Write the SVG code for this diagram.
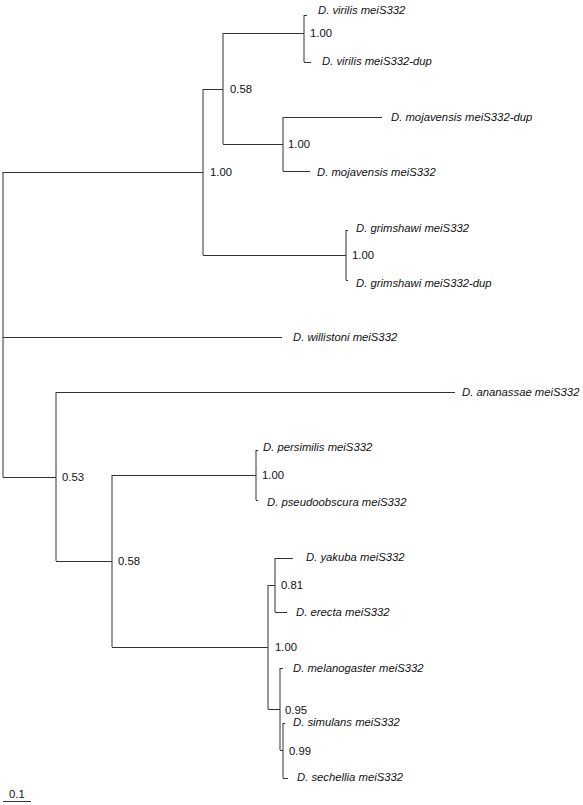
<svg xmlns="http://www.w3.org/2000/svg" width="583" height="805" viewBox="0 0 583 805">
<style>
text{font-family:"Liberation Sans",Arial,sans-serif;font-size:11.3px;fill:#111}
.tip{font-style:italic}
.br{fill:none;stroke:#333;stroke-width:1}
</style>
<rect width="583" height="805" fill="#fff"/>
<g id="connectors" class="br">
<path d="M3,172V477"/>
<path d="M3,172.5H203M203,89V255M203,89.5H223M223,33V144M223,33.5H304M304,15V62M304,15.5H307M304,62.5H311"/>
<path d="M223,144.5H283M283,117V171M283,117.5H382M283,171.5H310"/>
<path d="M203,255.5H346M346,230V280M346,230.5H348M346,280.5H348"/>
<path d="M3,337.5H282"/>
<path d="M3,477.5H56M56,392V561M56,392.5H455M56,561.5H112M112,475V647"/>
<path d="M112,475.5H256M256,450V500M256,450.5H258M256,500.5H258"/>
<path d="M112,647.5H268M268,585V709M268,585.5H275M275,558V612M275,558.5H293M275,612.5H287"/>
<path d="M268,709.5H280M280,668V750M280,668.5H283M280,750.5H283M283,723V778M283,723.5H285M283,778.5H288"/>
</g>
<g id="tip-virilis"><text class="tip" x="318" y="14">D. virilis meiS332</text></g>
<g id="tip-virilis-dup"><text class="tip" x="322" y="65">D. virilis meiS332-dup</text></g>
<g id="tip-mojavensis-dup"><text class="tip" x="391" y="121">D. mojavensis meiS332-dup</text></g>
<g id="tip-mojavensis"><text class="tip" x="317" y="176">D. mojavensis meiS332</text></g>
<g id="tip-grimshawi"><text class="tip" x="356" y="232">D. grimshawi meiS332</text></g>
<g id="tip-grimshawi-dup"><text class="tip" x="356" y="287">D. grimshawi meiS332-dup</text></g>
<g id="tip-willistoni"><text class="tip" x="293" y="341">D. willistoni meiS332</text></g>
<g id="tip-ananassae"><text class="tip" x="462" y="396">D. ananassae meiS332</text></g>
<g id="tip-persimilis"><text class="tip" x="263" y="451">D. persimilis meiS332</text></g>
<g id="tip-pseudoobscura"><text class="tip" x="267" y="506">D. pseudoobscura meiS332</text></g>
<g id="tip-yakuba"><text class="tip" x="306" y="561">D. yakuba meiS332</text></g>
<g id="tip-erecta"><text class="tip" x="296" y="616">D. erecta meiS332</text></g>
<g id="tip-melanogaster"><text class="tip" x="293" y="672">D. melanogaster meiS332</text></g>
<g id="tip-simulans"><text class="tip" x="293" y="726">D. simulans meiS332</text></g>
<g id="tip-sechellia"><text class="tip" x="297" y="781">D. sechellia meiS332</text></g>
<g id="node-virilis"><text x="310" y="37">1.00</text></g>
<g id="node-mojavensis"><text x="288" y="148">1.00</text></g>
<g id="node-vir-moj"><text x="230" y="93">0.58</text></g>
<g id="node-grimshawi"><text x="352" y="259">1.00</text></g>
<g id="node-upper"><text x="210" y="176">1.00</text></g>
<g id="node-lower"><text x="62" y="481">0.53</text></g>
<g id="node-obscura-melano"><text x="118" y="565">0.58</text></g>
<g id="node-obscura"><text x="262" y="479">1.00</text></g>
<g id="node-melano-group"><text x="275" y="651">1.00</text></g>
<g id="node-yak-ere"><text x="281" y="589">0.81</text></g>
<g id="node-mel-sim-sec"><text x="285" y="714">0.95</text></g>
<g id="node-sim-sec"><text x="289" y="755">0.99</text></g>
<g id="scale-bar"><path class="br" d="M3,801.5H31"/><text x="9" y="798">0.1</text></g>
</svg>
